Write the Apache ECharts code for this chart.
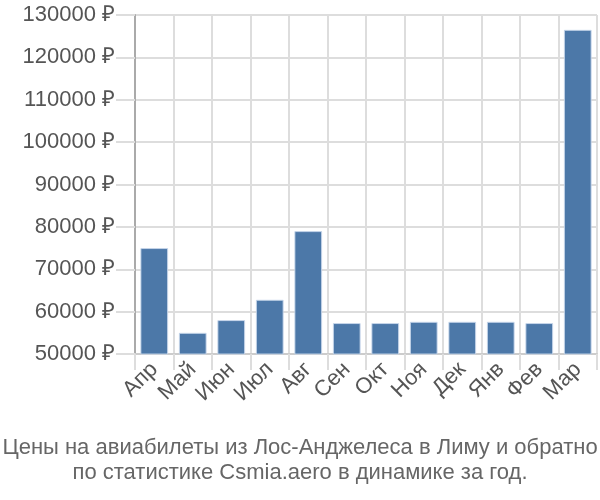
<!DOCTYPE html>
<html><head><meta charset="utf-8">
<script src="https://cdn.jsdelivr.net/npm/echarts@6/dist/echarts.min.js"></script>
<style>html,body{margin:0;padding:0;background:#fff}#c{width:600px;height:500px}</style>
</head><body><div id="c"></div>
<script>
const categories = ['Апр','Май','Июн','Июл','Авг','Сен','Окт','Ноя','Дек','Янв','Фев','Мар'];
const prices = [75000, 55000, 58000, 62800, 79000, 57300, 57300, 57600, 57600, 57600, 57300, 126500];
const titleLines = ['Цены на авиабилеты из Лос-Анджелеса в Лиму и обратно','по статистике Csmia.aero в динамике за год.'];

const chart = echarts.init(document.getElementById('c'));
chart.setOption({
  animation: false,
  title: {
    text: titleLines.join('\n'),
    left: 'center', bottom: 10,
    textStyle: {fontFamily: 'Liberation Sans, Arial', fontSize: 22, fontWeight: 'normal', color: '#666', lineHeight: 25}
  },
  grid: {left: 135, right: 3, top: 15, bottom: 146},
  xAxis: {
    type: 'category', data: categories,
    axisLine: {lineStyle: {color: '#ccc', width: 2}},
    axisTick: {show: true, interval: 0, length: 16, lineStyle: {color: '#ddd', width: 2}},
    splitLine: {show: true, interval: 0, lineStyle: {color: '#ddd', width: 2}},
    axisLabel: {interval: 0, rotate: 45, fontFamily: 'Liberation Sans, Arial', fontSize: 22, color: '#555', margin: 12, hideOverlap: false}
  },
  yAxis: {
    type: 'value', min: 50000, max: 130000, interval: 10000,
    axisLine: {show: true, lineStyle: {color: '#aaa', width: 2}},
    axisTick: {show: true, length: 19, lineStyle: {color: '#ddd', width: 2}},
    splitLine: {lineStyle: {color: '#ddd', width: 2}},
    axisLabel: {fontFamily: 'Liberation Sans, Arial', fontSize: 22, color: '#555', margin: 20, formatter: v => v + ' ₽'}
  },
  series: [{
    type: 'bar', data: prices, barCategoryGap: '28%',
    itemStyle: {color: '#4c78a8', borderColor: 'rgba(200,215,235,0.9)', borderWidth: 1}
  }]
});
</script></body></html>
